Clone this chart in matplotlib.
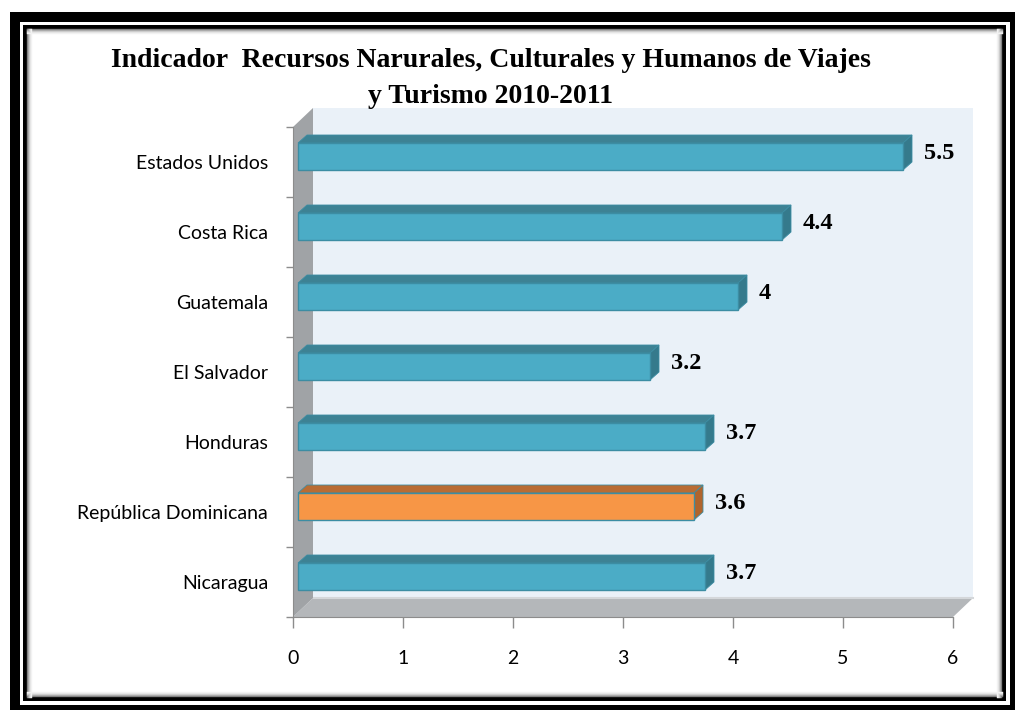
import matplotlib.pyplot as plt
from matplotlib.patches import Polygon, Rectangle

# Data
countries = ['Estados Unidos', 'Costa Rica', 'Guatemala', 'El Salvador',
             'Honduras', 'República Dominicana', 'Nicaragua']
values = [5.5, 4.4, 4.0, 3.2, 3.7, 3.6, 3.7]
labels = ['5.5', '4.4', '4', '3.2', '3.7', '3.6', '3.7']
highlight = 'República Dominicana'
xticks = [0, 1, 2, 3, 4, 5, 6]

W, H = 1015, 710
fig = plt.figure(figsize=(W / 100, H / 100), dpi=100)

# frame around the picture (pixel coordinates)
bg = fig.add_axes([0, 0, 1, 1], zorder=0)
bg.set_xlim(0, W)
bg.set_ylim(H, 0)
bg.axis('off')
bg.add_patch(Rectangle((10, 12), W - 10, H - 12, fc='black', ec='none'))
bg.add_patch(Rectangle((20, 22), 990, 683, fc='white', ec='none'))
bg.add_patch(Rectangle((23, 25), 983, 676, fc='black', ec='none'))
bg.add_patch(Rectangle((27, 29), 975, 668, fc='white', ec='none'))
# soft inner shadow
for i, g in enumerate(['#7a7a7a', '#a5a5a5', '#c8c8c8', '#e2e2e2', '#f2f2f2']):
    bg.plot([27 + i, 27 + i], [29, 697], color=g, lw=1)
    bg.plot([27, 1002], [29 + i, 29 + i], color=g, lw=1)
    bg.plot([1001 - i, 1001 - i], [29, 697], color=g, lw=1)
    bg.plot([27, 1002], [696 - i, 696 - i], color=g, lw=1)

# main chart area: front plane of the 3D box
x0, x1, ytop, ybot = 293, 953, 127, 617
ax = fig.add_axes([x0 / W, 1 - ybot / H, (x1 - x0) / W, (ybot - ytop) / H], zorder=1)
n = len(countries)
ax.set_xlim(0, 6)
ax.set_ylim(-0.5, n - 0.5)
ax.set_facecolor('none')

px = 6 / (x1 - x0)           # data units per pixel in x
py = n / (ybot - ytop)       # data units per pixel in y
DX, DY = 20 * px, 19 * py    # wall depth

# back wall, floor, left wall
ax.add_patch(Polygon([(DX, -0.5 + DY), (6 + DX, -0.5 + DY), (6 + DX, n - 0.5 + DY),
                      (DX, n - 0.5 + DY)], closed=True, fc='#eaf1f8', ec='none',
                     clip_on=False, zorder=0))
ax.add_patch(Polygon([(0, -0.5), (6, -0.5), (6 + DX, -0.5 + DY), (DX, -0.5 + DY)],
                     closed=True, fc='#b4b7ba', ec='none', clip_on=False, zorder=1))
ax.plot([DX, 6 + DX], [-0.5 + DY, -0.5 + DY], color='#d4d7da', lw=1.5,
        clip_on=False, zorder=1)
ax.add_patch(Polygon([(0, -0.5), (DX, -0.5 + DY), (DX, n - 0.5 + DY), (0, n - 0.5)],
                     closed=True, fc='#a0a3a6', ec='none', clip_on=False, zorder=2))

# bars
bh = 27 * py
fx, fy = 5 * px, 5.5 * py       # front face offset into depth
bx, by = 9 * px, 8 * py         # bar depth
for i, (c, v) in enumerate(zip(countries, values)):
    yc = n - 1 - i
    if c == highlight:
        front, top, side, edge = '#f79646', '#b96c33', '#b0642c', '#3c8da3'
    else:
        front, top, side, edge = '#4bacc6', '#3d8294', '#357a8c', '#3c8da3'
    l, r = fx, v + fx
    b, t = yc + fy - bh / 2, yc + fy + bh / 2
    ax.add_patch(Polygon([(l, t), (r, t), (r + bx, t + by), (l + bx, t + by)],
                         closed=True, fc=top, ec=edge, lw=0.6, clip_on=False, zorder=3))
    ax.add_patch(Polygon([(r, b), (r + bx, b + by), (r + bx, t + by), (r, t)],
                         closed=True, fc=side, ec=edge, lw=0.6, clip_on=False, zorder=3))
    ax.add_patch(Rectangle((l, b), r - l, t - b, fc=front, ec=edge, lw=1.0,
                           clip_on=False, zorder=4))
    ax.text(v + 26 * px, yc + fy + 3 * py, labels[i], ha='left', va='center',
            fontsize=17.5, fontweight='bold', family='Liberation Serif', color='black')

# axes lines and ticks
for s in ['top', 'right']:
    ax.spines[s].set_visible(False)
ax.spines['left'].set_color('#8c8c8c')
ax.spines['bottom'].set_color('#8c8c8c')
ax.spines['left'].set_zorder(5)
ax.set_xticks(xticks)
ax.set_xticklabels([str(t) for t in xticks], fontsize=14, family='Lato')
ax.tick_params(axis='x', length=8, width=1, color='#8c8c8c', pad=16)
ax.set_yticks(range(n))
ax.set_yticklabels(countries[::-1], fontsize=14, family='Lato')
ax.set_yticks([k - 0.5 for k in range(n + 1)], minor=True)
ax.tick_params(axis='y', which='major', length=0, pad=18)
ax.tick_params(axis='y', which='minor', length=5, width=1, color='#8c8c8c')

# title
fig.text(491 / W, 1 - 67 / H, 'Indicador  Recursos Narurales, Culturales y Humanos de Viajes',
         ha='center', va='baseline', fontsize=20, fontweight='bold', family='Liberation Serif')
fig.text(491 / W, 1 - 103 / H, 'y Turismo 2010-2011',
         ha='center', va='baseline', fontsize=20, fontweight='bold', family='Liberation Serif')

fig.savefig('out.png', dpi=100)
